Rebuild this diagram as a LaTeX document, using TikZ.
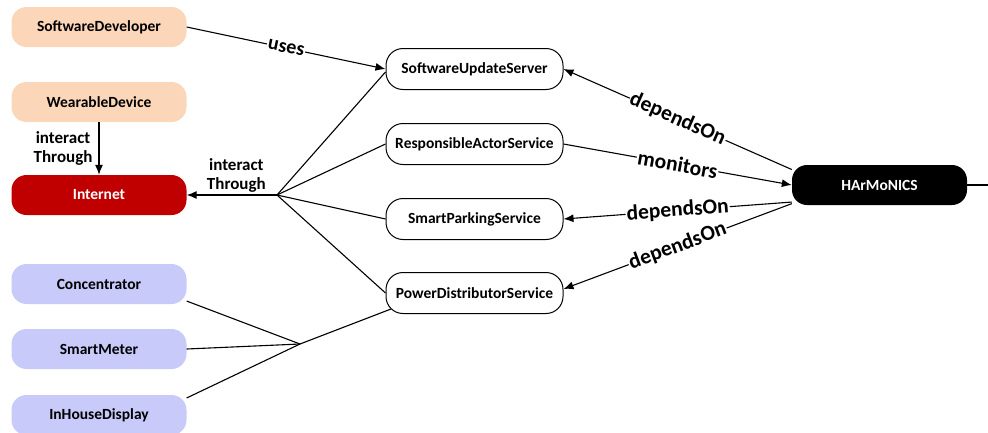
\documentclass[tikz,border=0pt]{standalone}
\usepackage{fontspec}
\setmainfont{Carlito}
\usetikzlibrary{arrows.meta}
\definecolor{peach}{HTML}{FBD6B8}
\definecolor{lavender}{HTML}{C8CAFA}
\definecolor{alertred}{HTML}{C00000}
\begin{document}
\begin{tikzpicture}[x=1pt,y=-1pt,
  box/.style={rectangle, rounded corners=15pt, minimum width=175pt, minimum height=40pt,
              inner sep=0pt, font=\bfseries\fontsize{15.5}{17}\selectfont},
  actor/.style={box, fill=peach},
  device/.style={box, fill=lavender},
  svc/.style={box, draw, line width=1pt, minimum width=177pt, minimum height=41pt,
              rounded corners=17pt},
  link/.style={line width=1.1pt},
  arr/.style={link, -{Latex[length=10pt,width=8pt]}},
  lbl/.style={font=\bfseries\fontsize{21.5}{23}\selectfont, fill=white, inner sep=1pt, sloped},
  note/.style={font=\bfseries\fontsize{17}{19}\selectfont, align=center, inner sep=2pt}]

\useasboundingbox (0,0) rectangle (988,432);

% actors and devices on the left
\node[actor] (sd) at (99,27) {SoftwareDeveloper};
\node[actor] (wd) at (99,102) {WearableDevice};
\node[box, fill=alertred, text=white] (inet) at (99,195) {Internet};
\node[device] (conc) at (99,284) {Concentrator};
\node[device] (sm) at (99,349) {SmartMeter};
\node[device] (ihd) at (99,415) {InHouseDisplay};

% services in the middle
\node[svc] (sus) at (474.5,69) {SoftwareUpdateServer};
\node[svc] (ras) at (474.5,144) {ResponsibleActorService};
\node[svc] (sps) at (474.5,219) {SmartParkingService};
\node[svc] (pds) at (474.5,293) {PowerDistributorService};

% the platform on the right
\node[box, fill=black, text=white] (harm) at (879.5,185) {HArMoNICS};

% branching points and the open end
\coordinate (j1) at (277,195);
\coordinate (j2) at (300,344);
\coordinate (tail) at (988,185);

% left part
\draw[arr] (sd.east) -- node[lbl, midway, font=\bfseries\fontsize{20}{22}\selectfont] {uses} (sus.west);
\draw[arr] (wd) -- node[note, midway, left=4pt] {interact\\Through} (inet);
\draw[arr] (j1) -- node[note, pos=0.45, above] {interact\\Through} (inet.east);
\draw[link] (j1) -- ([yshift=-3pt]sus.west);
\draw[link] (j1) -- (ras.west);
\draw[link] (j1) -- (sps.west);
\draw[link] (j1) -- (pds.west);
\draw[link] (conc.-11) -- (j2);
\draw[link] (sm.east) -- (j2);
\draw[link] (ihd.11) -- (j2);
\draw[link] (j2) -- ([shift={(5.5,16)}]pds.west);

% right part
\draw[arr] (harm.170) -- node[lbl, midway] {dependsOn} (sus.east);
\draw[arr] (ras.east) -- node[lbl, midway] {monitors} (harm.west);
\draw[arr] (harm.191) -- node[lbl, midway] {dependsOn} (sps.east);
\draw[arr] (harm.192) -- node[lbl, midway] {dependsOn} ([yshift=4pt]pds.east);
\draw[link] (harm.east) -- (tail);
\end{tikzpicture}
\end{document}
